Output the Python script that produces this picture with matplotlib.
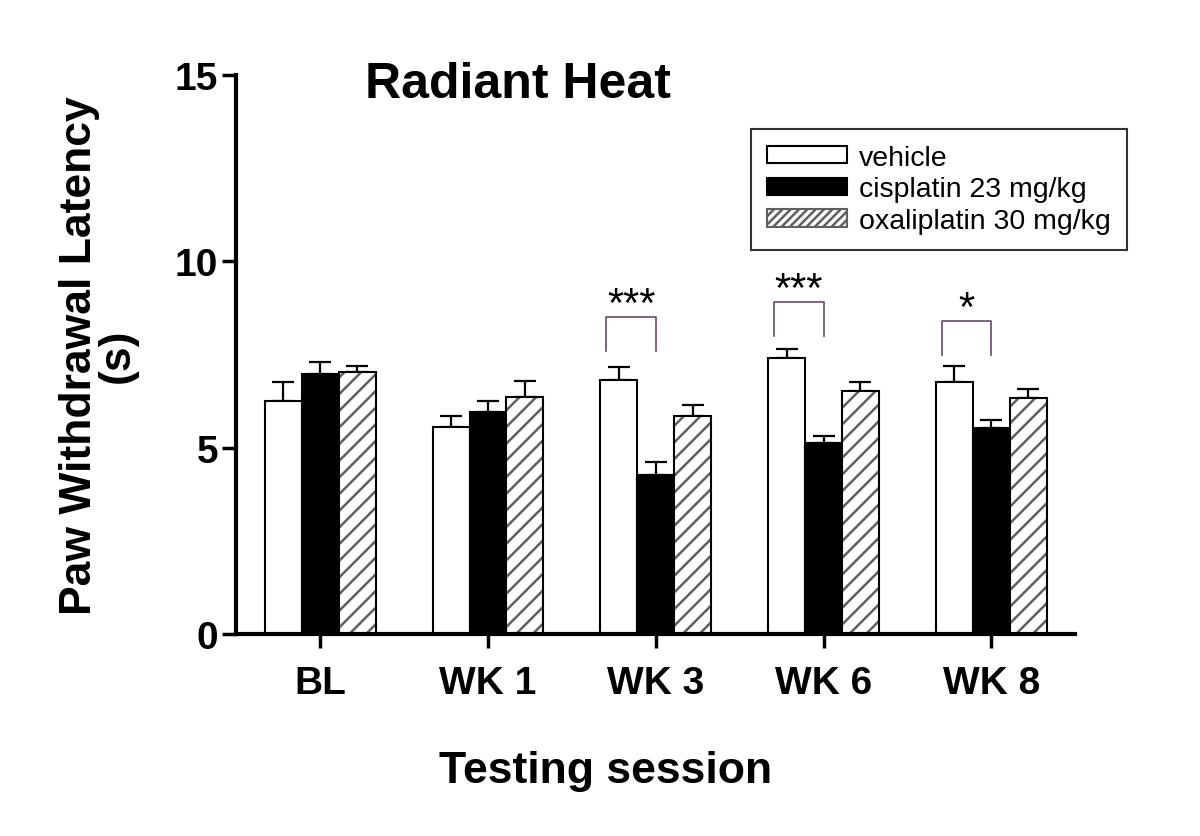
import numpy as np
import matplotlib
matplotlib.use("Agg")
import matplotlib.pyplot as plt
from matplotlib.patches import Patch

# -------------------------------------------------
# Daten
# -------------------------------------------------

sessions = ["BL", "WK 1", "WK 3", "WK 6", "WK 8"]
groups = ["vehicle", "cisplatin 23 mg/kg", "oxaliplatin 30 mg/kg"]

vehicle = [6.25, 5.55, 6.82, 7.40, 6.77]
vehicle_err = [0.52, 0.30, 0.35, 0.25, 0.41]

cisplatin = [6.97, 5.96, 4.27, 5.12, 5.53]
cisplatin_err = [0.34, 0.29, 0.35, 0.19, 0.22]

oxaliplatin = [7.04, 6.35, 5.85, 6.52, 6.33]
oxaliplatin_err = [0.16, 0.45, 0.29, 0.23, 0.24]

# Signifikanz: session index, bracket hoehe, bein unten, sterne
sig_session = [2, 3, 4]
sig_top = [8.51, 8.92, 8.41]
sig_bottom = [7.60, 8.00, 7.49]
sig_label = ["***", "***", "*"]

# -------------------------------------------------
# Plot
# -------------------------------------------------

plt.rcParams["font.family"] = ["Liberation Sans", "DejaVu Sans"]
plt.rcParams["hatch.linewidth"] = 1.8

fig = plt.figure(figsize=(12, 8.37), dpi=100)
ax = fig.add_axes([0.197, 0.2413, 0.699, 0.6679])

x = np.arange(len(sessions))
w = 0.22
lw_bar = 1.5
hatch_col = "#606060"

# vehicle
ax.bar(x - w, vehicle, w, color="white", edgecolor="black", linewidth=lw_bar, zorder=2)
# cisplatin
ax.bar(x, cisplatin, w, color="black", edgecolor="black", linewidth=lw_bar, zorder=2)
# oxaliplatin: hatch grau, rand schwarz
ax.bar(x + w, oxaliplatin, w, color="white", edgecolor=hatch_col, hatch="//",
       linewidth=0, zorder=2)
ax.bar(x + w, oxaliplatin, w, fill=False, edgecolor="black", linewidth=lw_bar, zorder=3)

for off, vals, errs in [(-w, vehicle, vehicle_err),
                        (0, cisplatin, cisplatin_err),
                        (w, oxaliplatin, oxaliplatin_err)]:
    ax.errorbar(x + off, vals, yerr=[np.zeros(len(errs)), errs], fmt="none",
                ecolor="black", elinewidth=1.6, capsize=8, capthick=1.6, zorder=1)

# brackets
for s, top, bot, lab in zip(sig_session, sig_top, sig_bottom, sig_label):
    xl = s - w - 0.075
    xr = s
    ax.plot([xl, xl, xr, xr], [bot, top, top, bot], color="#6a4a6a", lw=1.2,
            zorder=4)
    ax.text((xl + xr) / 2, top + 0.02, lab, ha="center", va="baseline",
            fontsize=30, zorder=4)

ax.set_xlim(-0.5, 4.5)
ax.set_ylim(0, 15)
ax.set_yticks([0, 5, 10, 15])
ax.set_xticks(x)
ax.set_xticklabels(sessions)

for sp in ["top", "right"]:
    ax.spines[sp].set_visible(False)
for sp in ["left", "bottom"]:
    ax.spines[sp].set_linewidth(3)

ax.tick_params(axis="both", length=10, width=2.5, labelsize=28, pad=3)
for lab in ax.get_xticklabels() + ax.get_yticklabels():
    lab.set_fontweight("bold")
ax.tick_params(axis="x", pad=12)

fig.text(0.505, 1 - 772 / 837, "Testing session", ha="center", va="center",
         fontsize=32, fontweight="bold")
ax.set_ylabel("Paw Withdrawal Latency\n(s)", fontsize=32, fontweight="bold",
              labelpad=27, linespacing=0.88)

ax.text(1.18, 14.42, "Radiant Heat", ha="center", va="baseline",
        fontsize=36, fontweight="bold")

handles = [
    Patch(facecolor="white", edgecolor="black", linewidth=1.5),
    Patch(facecolor="black", edgecolor="black", linewidth=1.5),
    Patch(facecolor="white", edgecolor=hatch_col, hatch="////", linewidth=1.5),
]
leg = ax.legend(handles, groups, loc="upper right", bbox_to_anchor=(0.939, 0.8447),
                bbox_transform=fig.transFigure, borderaxespad=0, fontsize=20.5,
                frameon=True, fancybox=False, edgecolor="black", handlelength=2.8,
                handleheight=0.55, handletextpad=0.45, labelspacing=0.2,
                borderpad=0.55)
leg.get_frame().set_linewidth(1.5)

fig.savefig("out.png", dpi=100, facecolor="white")
